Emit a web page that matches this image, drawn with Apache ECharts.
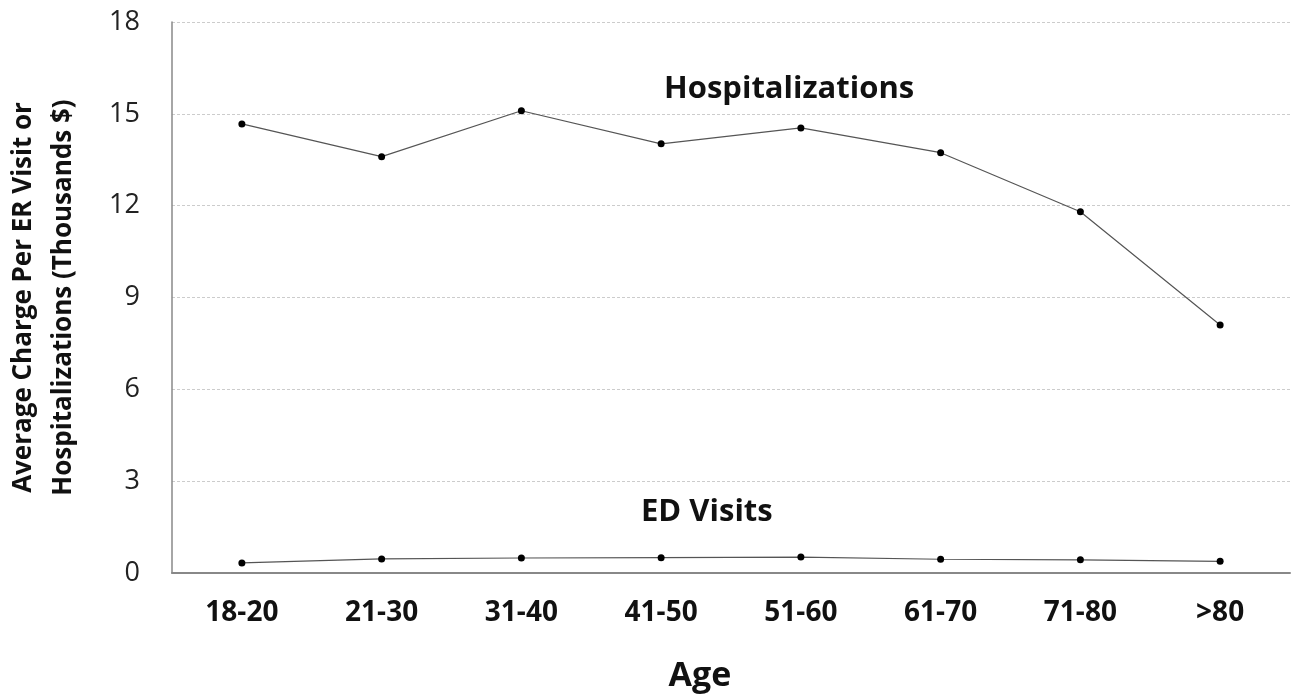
<!DOCTYPE html>
<html><head><meta charset="utf-8">
<script src="https://cdn.jsdelivr.net/npm/echarts@6/dist/echarts.min.js"></script>
<style>html,body{margin:0;padding:0;background:#fff}#c{width:1293px;height:697px}</style>
</head><body><div id="c"></div>
<script>
const categories = ['18-20','21-30','31-40','41-50','51-60','61-70','71-80','>80'];
const hospitalizations = [14.67, 13.6, 15.1, 14.02, 14.54, 13.73, 11.8, 8.1];
const edVisits = [0.33, 0.46, 0.49, 0.5, 0.52, 0.45, 0.43, 0.38];
const yTicks = [0, 3, 6, 9, 12, 15, 18];
const labelHosp = 'Hospitalizations';
const labelED = 'ED Visits';

const font = '"Open Sans", "Noto Sans", sans-serif';
const chart = echarts.init(document.getElementById('c'));
const lineStyle = {color: '#555', width: 1.2};
const itemStyle = {color: '#000'};
chart.setOption({
  animation: false,
  grid: {left: 172, top: 22, right: 3, bottom: 124, outerBoundsMode: 'none', containLabel: false},
  xAxis: {
    type: 'category', data: categories, boundaryGap: true,
    name: 'Age', nameLocation: 'middle', nameGap: 86,
    nameTextStyle: {fontFamily: font, fontSize: 34, fontWeight: 'bold', color: '#111', padding: [0, 62, 0, 0]},
    axisLine: {lineStyle: {color: '#888', width: 2}},
    axisTick: {show: false},
    axisLabel: {fontFamily: font, fontSize: 28, fontWeight: 'bold', color: '#111', margin: 26}
  },
  yAxis: {
    type: 'value', min: yTicks[0], max: yTicks[yTicks.length-1], interval: 3,
    name: 'Average Charge Per ER Visit or\nHospitalizations (Thousands $)',
    nameLocation: 'middle', nameRotate: 90, nameGap: 88,
    nameTextStyle: {fontFamily: font, fontSize: 26, fontWeight: 'bold', color: '#111', lineHeight: 40, align: 'center'},
    axisLine: {show: true, lineStyle: {color: '#888', width: 1.5}},
    axisTick: {show: false},
    axisLabel: {fontFamily: font, fontSize: 27, color: '#222', margin: 32},
    splitLine: {lineStyle: {color: '#ccc', type: [3, 2], width: 1}}
  },
  series: [
    {type: 'line', data: hospitalizations, symbol: 'circle', symbolSize: 7, lineStyle, itemStyle},
    {type: 'line', data: edVisits, symbol: 'circle', symbolSize: 7, lineStyle, itemStyle}
  ],
  graphic: [
    {type: 'text', left: 664, top: 74, style: {text: labelHosp, font: 'bold 31px ' + font, fill: '#111'}},
    {type: 'text', left: 641, top: 497, style: {text: labelED, font: 'bold 31px ' + font, fill: '#111'}}
  ]
});
</script></body></html>
